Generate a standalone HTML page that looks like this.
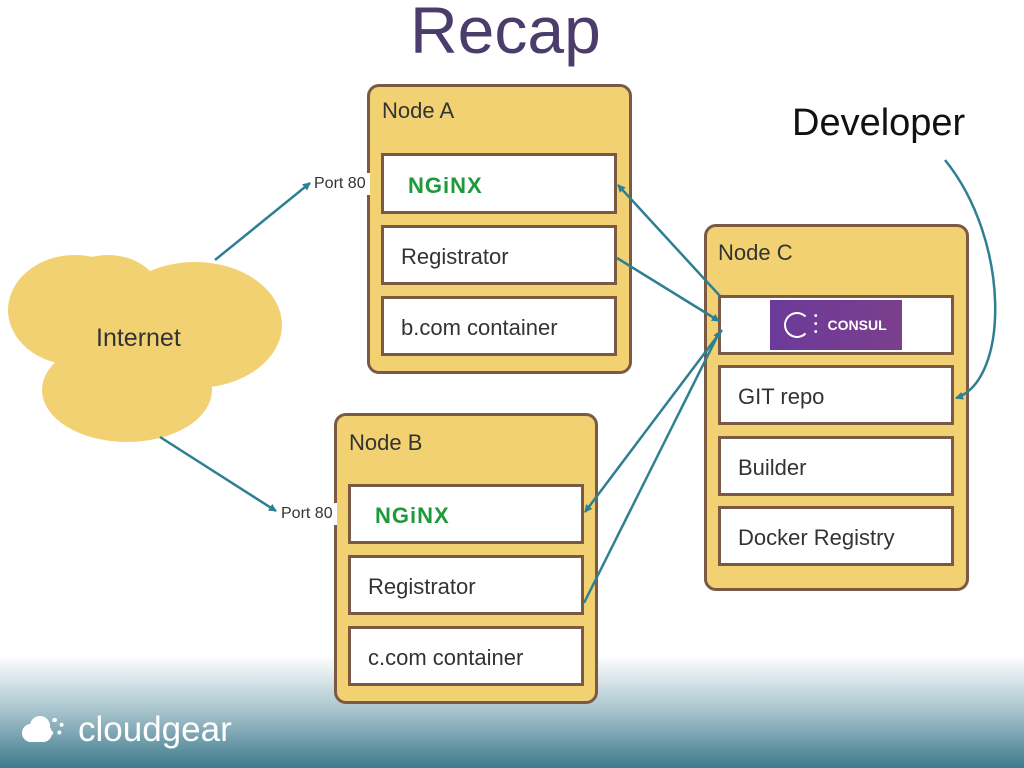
<!DOCTYPE html>
<html><head><style>
body{margin:0;width:1024px;height:768px;overflow:hidden;position:relative;font-family:"Liberation Sans",sans-serif;background:#fff}
.bg{position:absolute;left:0;top:640px;width:1024px;height:128px;background:linear-gradient(#fff 0%,#fff 12%,#a8c4cd 55%,#3d7a8c 100%)}
.node{position:absolute;background:#f2d173;border:3px solid #7a5a44;border-radius:12px;box-sizing:border-box}
.box{position:absolute;background:#fff;border:3px solid #7a5a44;box-sizing:border-box;font-size:22px;color:#333;padding-left:17px;padding-top:4px;display:flex;align-items:center}
.t{position:absolute;font-size:22px;color:#333}
.ng{color:#1f9a3a;font-weight:bold;font-size:22px;letter-spacing:1px}
.port{position:absolute;background:#fff;font-size:16px;color:#333;padding:2px 4px}
</style></head><body>
<div class="bg"></div>
<div style="position:absolute;left:410px;top:-8px;font-size:66px;color:#4b3d6b">Recap</div>
<div style="position:absolute;left:792px;top:102px;font-size:38px;color:#111">Developer</div>
<svg style="position:absolute;left:0;top:0" width="1024" height="768">
<g fill="#f2d173">
<ellipse cx="75" cy="310" rx="67" ry="55"/><ellipse cx="108" cy="300" rx="55" ry="45"/>
<ellipse cx="195" cy="325" rx="87" ry="63"/><ellipse cx="127" cy="390" rx="85" ry="52"/>
</g>
</svg>
<div class="t" style="left:96px;top:324px;font-size:25px">Internet</div>

<div class="node" style="left:367px;top:84px;width:265px;height:290px"></div>
<div class="t" style="left:382px;top:98px">Node A</div>
<div class="box" style="left:381px;top:153px;width:236px;height:61px"><span class="ng" style="margin-left:7px">NGiNX</span></div>
<div class="box" style="left:381px;top:225px;width:236px;height:60px">Registrator</div>
<div class="box" style="left:381px;top:296px;width:236px;height:60px">b.com container</div>

<div class="node" style="left:334px;top:413px;width:264px;height:291px"></div>
<div class="t" style="left:349px;top:430px">Node B</div>
<div class="box" style="left:348px;top:484px;width:236px;height:60px"><span class="ng" style="margin-left:7px">NGiNX</span></div>
<div class="box" style="left:348px;top:555px;width:236px;height:60px">Registrator</div>
<div class="box" style="left:348px;top:626px;width:236px;height:60px">c.com container</div>

<div class="node" style="left:704px;top:224px;width:265px;height:367px"></div>
<div class="t" style="left:718px;top:240px">Node C</div>
<div class="box" style="left:718px;top:295px;width:236px;height:60px;padding:0;justify-content:center">
<div style="width:132px;height:50px;background:linear-gradient(90deg,#6b3a9a,#7b3f8c);display:flex;align-items:center;color:#fff;font-size:14px;font-weight:bold"><span style="display:inline-block;width:22px;height:22px;border:2px solid #fff;border-right-color:transparent;border-radius:50%;margin:0 4px 0 14px"></span><span style="font-size:10px;line-height:8px;margin-right:10px">•<br>•<br>•</span>CONSUL</div></div>
<div class="box" style="left:718px;top:365px;width:236px;height:60px">GIT repo</div>
<div class="box" style="left:718px;top:436px;width:236px;height:60px">Builder</div>
<div class="box" style="left:718px;top:506px;width:236px;height:60px">Docker Registry</div>

<div class="port" style="left:310px;top:173px">Port 80</div>
<div class="port" style="left:277px;top:503px">Port 80</div>

<svg style="position:absolute;left:0;top:0" width="1024" height="768">
<defs><marker id="a" markerWidth="8" markerHeight="8" refX="7" refY="4" orient="auto" markerUnits="userSpaceOnUse"><path d="M0,0L8,4L0,8z" fill="#2f7f93"/></marker></defs>
<g stroke="#2f7f93" stroke-width="2.5" fill="none" marker-end="url(#a)">
<line x1="215" y1="260" x2="310" y2="183"/>
<line x1="160" y1="437" x2="276" y2="511"/>
<line x1="720" y1="296" x2="618" y2="185"/>
<line x1="617" y1="258" x2="719" y2="321"/>
<line x1="722" y1="330" x2="585" y2="512"/>
<line x1="584" y1="603" x2="720" y2="331"/>
<path d="M945,160 C1010,240 1010,380 956,398"/>
</g>
</svg>
<div style="position:absolute;left:22px;top:714px;width:42px;height:28px">
<div style="position:absolute;left:0;top:10px;width:30px;height:18px;background:#fff;border-radius:9px"></div>
<div style="position:absolute;left:8px;top:2px;width:20px;height:20px;background:#fff;border-radius:50%"></div>
<div style="position:absolute;left:24px;top:4px;width:18px;height:18px;border:4px dotted #fff;border-radius:50%;box-sizing:border-box"></div>
</div>
<div style="position:absolute;left:78px;top:710px;font-size:35px;color:#fff">cloudgear</div>
</body></html>
